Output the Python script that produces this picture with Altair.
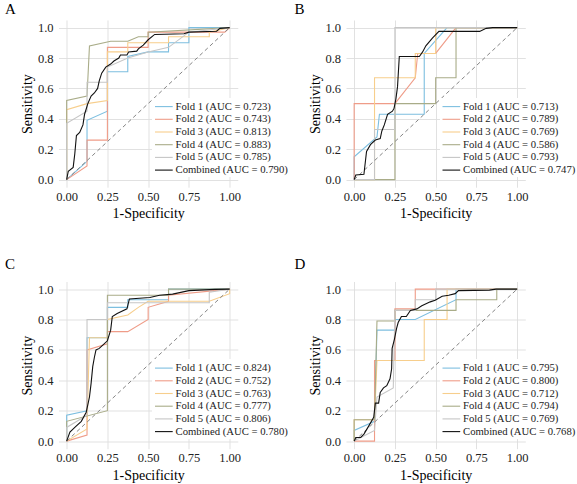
import altair as alt
import pandas as pd

FONT = "Liberation Serif"

SERIES = ["Fold 1", "Fold 2", "Fold 3", "Fold 4", "Fold 5", "Combined"]
COLORS = ["#7DBFE0", "#EF9C88", "#F7CE8C", "#A9AC88", "#C6C6C6", "#111111"]
WIDTHS = [1.1, 1.1, 1.1, 1.1, 1.1, 1.8]

X_TICKS = [0, 0.25, 0.5, 0.75, 1.0]
Y_TICKS = [0, 0.2, 0.4, 0.6, 0.8, 1.0]
DIAG_X = [0, 1]
DIAG_Y = [0, 1]

# ROC points (1-specificity, sensitivity) per fold and pooled, panel A
A_AUC = [0.723, 0.743, 0.813, 0.883, 0.785, 0.790]
A_FOLD1 = [(0, 0), (0.125, 0.12), (0.125, 0.39), (0.25, 0.45), (0.25, 0.71), (0.375, 0.71),
           (0.375, 0.81), (0.5, 0.84), (0.625, 0.84), (0.625, 0.90), (0.75, 0.90), (0.75, 1.0), (1, 1)]
A_FOLD2 = [(0, 0), (0.125, 0.09), (0.125, 0.26), (0.25, 0.26), (0.25, 0.87), (0.5, 0.87),
           (0.5, 0.97), (0.97, 0.97), (1, 1)]
A_FOLD3 = [(0, 0), (0, 0.46), (0.125, 0.50), (0.25, 0.52), (0.25, 0.84), (0.375, 0.84),
           (0.375, 0.90), (0.625, 0.90), (0.625, 0.94), (0.875, 0.94), (0.875, 0.97), (1, 1)]
A_FOLD4 = [(0, 0), (0, 0.52), (0.125, 0.55), (0.14, 0.88), (0.27, 0.91), (0.375, 0.91),
           (0.44, 0.94), (0.5, 0.94), (0.5, 0.97), (1, 1)]
A_FOLD5 = [(0, 0), (0, 0.37), (0.125, 0.45), (0.125, 0.64), (0.25, 0.64), (0.25, 0.74),
           (0.375, 0.80), (0.5, 0.84), (0.625, 0.87), (0.75, 0.97), (1, 1)]
A_COMB = [(0, 0), (0.01, 0.055), (0.04, 0.08), (0.05, 0.17), (0.06, 0.29), (0.08, 0.31),
          (0.10, 0.36), (0.11, 0.43), (0.13, 0.50), (0.15, 0.55), (0.17, 0.57), (0.19, 0.60),
          (0.20, 0.65), (0.215, 0.70), (0.24, 0.74), (0.27, 0.76), (0.29, 0.78), (0.32, 0.80),
          (0.33, 0.82), (0.37, 0.82), (0.38, 0.84), (0.43, 0.845), (0.44, 0.86), (0.47, 0.885),
          (0.50, 0.92), (0.54, 0.955), (0.72, 0.96), (0.75, 0.97), (0.92, 0.976), (0.94, 0.995),
          (1, 1)]

# Panel B
B_AUC = [0.713, 0.789, 0.769, 0.586, 0.793, 0.747]
B_FOLD1 = [(0, 0), (0, 0.15), (0.14, 0.28), (0.155, 0.43), (0.43, 0.43), (0.43, 0.83),
           (0.57, 1.0), (1, 1)]
B_FOLD2 = [(0, 0), (0, 0.5), (0.25, 0.5), (0.375, 0.67), (0.39, 0.83), (0.5, 0.83),
           (0.625, 1.0), (1, 1)]
B_FOLD3 = [(0, 0), (0.125, 0), (0.125, 0.67), (0.375, 0.67), (0.375, 0.83), (0.5, 0.83),
           (0.5, 1.0), (1, 1)]
B_FOLD4 = [(0, 0), (0.25, 0), (0.25, 0.5), (0.5, 0.5), (0.5, 0.67), (0.625, 0.67),
           (0.625, 1.0), (1, 1)]
B_FOLD5 = [(0, 0), (0.125, 0), (0.125, 0.33), (0.25, 0.33), (0.25, 1.0), (1, 1)]
B_COMB = [(0, 0), (0.01, 0.03), (0.06, 0.035), (0.076, 0.185), (0.10, 0.23), (0.13, 0.26),
          (0.16, 0.27), (0.17, 0.32), (0.185, 0.36), (0.205, 0.43), (0.235, 0.45),
          (0.245, 0.47), (0.256, 0.53), (0.266, 0.61), (0.277, 0.81), (0.40, 0.81),
          (0.42, 0.84), (0.44, 0.88), (0.48, 0.93), (0.52, 0.975), (0.77, 0.975),
          (0.81, 0.995), (0.85, 1.0), (1, 1)]

# Panel C
C_AUC = [0.824, 0.752, 0.763, 0.777, 0.806, 0.780]
C_FOLD1 = [(0, 0), (0, 0.17), (0.125, 0.20), (0.125, 0.68), (0.25, 0.68), (0.25, 0.88),
           (0.375, 0.88), (0.375, 0.93), (0.625, 0.93), (0.625, 1.0), (1, 1)]
C_FOLD2 = [(0, 0), (0.125, 0.04), (0.125, 0.60), (0.25, 0.64), (0.25, 0.72), (0.375, 0.72),
           (0.5, 0.80), (0.5, 0.88), (0.625, 0.92), (0.625, 0.96), (1, 1)]
C_FOLD3 = [(0, 0), (0.125, 0.08), (0.14, 0.68), (0.25, 0.68), (0.25, 0.80), (0.375, 0.83),
           (0.44, 0.88), (0.5, 0.92), (0.875, 0.92), (1, 0.97), (1, 1)]
C_FOLD4 = [(0, 0), (0, 0.13), (0.25, 0.20), (0.25, 0.96), (0.625, 0.96), (0.625, 1.0), (1, 1)]
C_FOLD5 = [(0, 0), (0, 0.09), (0.125, 0.17), (0.125, 0.80), (0.25, 0.80), (0.25, 0.91),
           (0.875, 0.91), (0.875, 0.98), (1, 1)]
C_COMB = [(0, 0), (0.02, 0.06), (0.05, 0.09), (0.09, 0.13), (0.12, 0.19), (0.14, 0.29),
          (0.15, 0.38), (0.16, 0.49), (0.17, 0.55), (0.18, 0.60), (0.20, 0.61), (0.22, 0.63),
          (0.25, 0.66), (0.27, 0.73), (0.28, 0.82), (0.31, 0.84), (0.37, 0.87), (0.385, 0.935),
          (0.51, 0.945), (0.57, 0.96), (0.65, 0.967), (0.75, 0.99), (0.91, 0.998), (1, 1)]

# Panel D
D_AUC = [0.795, 0.800, 0.712, 0.794, 0.769, 0.768]
D_FOLD1 = [(0, 0), (0, 0.07), (0.125, 0.13), (0.14, 0.73), (0.25, 0.73), (0.25, 0.80),
           (0.375, 0.80), (0.625, 0.93), (0.625, 1.0), (1, 1)]
D_FOLD2 = [(0, 0), (0.125, 0), (0.125, 0.53), (0.25, 0.53), (0.25, 0.87), (0.375, 0.87),
           (0.375, 1.0), (1, 1)]
D_FOLD3 = [(0, 0), (0, 0.14), (0.125, 0.14), (0.14, 0.53), (0.43, 0.53), (0.43, 0.80),
           (0.57, 0.80), (0.57, 1.0), (1, 1)]
D_FOLD4 = [(0, 0), (0, 0.14), (0.125, 0.14), (0.14, 0.79), (0.25, 0.79), (0.25, 0.86),
           (0.625, 0.86), (0.625, 0.93), (0.875, 0.93), (0.875, 1.0), (1, 1)]
D_FOLD5 = [(0, 0), (0.125, 0.07), (0.14, 0.29), (0.24, 0.35), (0.25, 0.86), (0.375, 0.86),
           (0.375, 0.93), (0.5, 0.93), (0.5, 1.0), (1, 1)]
D_COMB = [(0, 0), (0.01, 0.024), (0.04, 0.024), (0.06, 0.046), (0.09, 0.10), (0.12, 0.156),
          (0.13, 0.25), (0.15, 0.25), (0.16, 0.32), (0.18, 0.35), (0.20, 0.365), (0.22, 0.41),
          (0.23, 0.476), (0.233, 0.61), (0.247, 0.67), (0.26, 0.74), (0.27, 0.78), (0.29, 0.82),
          (0.32, 0.82), (0.345, 0.86), (0.385, 0.87), (0.415, 0.89), (0.467, 0.916),
          (0.497, 0.927), (0.54, 0.953), (0.58, 0.96), (0.62, 0.97), (0.64, 0.99),
          (0.83, 0.993), (0.87, 1.0), (1, 1)]

W = 179.3
H = 167.2
DOMAIN = [-0.05, 1.05]

# key placement inside each panel (pixels from the plot's top-left corner)
KEY_ROW_SCALE = alt.Scale(domain=[0, 5], range=[86.6, 150.1], nice=False, zero=False)
KEY_SWATCH_X = 96.5
KEY_SWATCH_X2 = 114.2
KEY_TEXT_X = 117
KEY_FONT_SIZE = 10.7


def make_panel(letter, curves, aucs, dx, offset):
    labels = [f"{name} (AUC = {auc:.3f})" for name, auc in zip(SERIES, aucs)]
    rows = []
    for lab, pts in zip(labels, curves):
        for i, (fx, ty) in enumerate(pts):
            rows.append({"series": lab, "i": i, "fpr": fx, "tpr": ty})
    df = pd.DataFrame(rows)
    key = pd.DataFrame({"series": labels, "row": list(range(len(labels)))})

    xs = alt.Scale(domain=DOMAIN, nice=False, zero=False)
    ys = alt.Scale(domain=DOMAIN, nice=False, zero=False)
    x_enc = alt.X("fpr:Q", scale=xs,
                  axis=alt.Axis(values=X_TICKS, format=".2f", title="1-Specificity",
                                labelFont=FONT, titleFont=FONT))
    y_axis = alt.Y("tpr:Q", scale=ys,
                   axis=alt.Axis(values=Y_TICKS, format=".1f", title="Sensitivity",
                                 labelFont=FONT, titleFont=FONT))
    y_plain = alt.Y("tpr:Q", scale=ys, axis=None)
    color = alt.Color("series:N", scale=alt.Scale(domain=labels, range=COLORS), legend=None)
    width = alt.StrokeWidth("series:N", scale=alt.Scale(domain=labels, range=WIDTHS),
                            legend=None)
    key_y = alt.Y("row:Q", scale=KEY_ROW_SCALE, axis=None)

    folds = alt.Chart(df[df["series"] != labels[-1]]).mark_line().encode(
        x=x_enc, y=y_axis, color=color, strokeWidth=width, order=alt.Order("i:Q"))
    diag = alt.Chart(pd.DataFrame({"fpr": DIAG_X, "tpr": DIAG_Y})).mark_line(
        color="#858585", strokeWidth=1, strokeDash=[4, 3]).encode(x=x_enc, y=y_plain)
    pooled = alt.Chart(df[df["series"] == labels[-1]]).mark_line().encode(
        x=x_enc, y=y_plain, color=color, strokeWidth=width, order=alt.Order("i:Q"))

    key_box = alt.Chart(key).mark_rect(fill="white").encode(
        x=alt.value(94), x2=alt.value(W), y=alt.value(78), y2=alt.value(157))
    key_swatch = alt.Chart(key).mark_rule().encode(
        x=alt.value(KEY_SWATCH_X), x2=alt.value(KEY_SWATCH_X2), y=key_y,
        color=color, strokeWidth=width)
    key_text = alt.Chart(key).mark_text(
        align="left", baseline="middle", font=FONT, fontSize=KEY_FONT_SIZE, color="#222222"
    ).encode(x=alt.value(KEY_TEXT_X), y=key_y, text="series:N")

    return alt.layer(folds, diag, pooled, key_box, key_swatch, key_text).resolve_scale(
        y="independent"
    ).properties(
        width=W, height=H,
        title=alt.TitleParams(letter, anchor="start", frame="group", dx=dx, offset=offset,
                              baseline="alphabetic", font=FONT, fontSize=15,
                              fontWeight="normal", color="#000000"))


panel_a = make_panel("A", [A_FOLD1, A_FOLD2, A_FOLD3, A_FOLD4, A_FOLD5, A_COMB], A_AUC, -53.5, -8.5)
panel_b = make_panel("B", [B_FOLD1, B_FOLD2, B_FOLD3, B_FOLD4, B_FOLD5, B_COMB], B_AUC, -51.5, -8.5)
panel_c = make_panel("C", [C_FOLD1, C_FOLD2, C_FOLD3, C_FOLD4, C_FOLD5, C_COMB], C_AUC, -53.5, -2)
panel_d = make_panel("D", [D_FOLD1, D_FOLD2, D_FOLD3, D_FOLD4, D_FOLD5, D_COMB], D_AUC, -51.5, -2)

chart = alt.concat(
    panel_a, panel_b, panel_c, panel_d,
    columns=2, spacing={"row": 93.5, "column": 107.5}, bounds="flush",
).resolve_scale(
    color="independent", strokeWidth="independent"
).properties(
    padding={"left": 4.5, "top": 1, "right": 0, "bottom": 0}
).configure(
    font=FONT, background="white"
).configure_view(
    strokeWidth=0
).configure_axis(
    grid=True, gridColor="#DEDEDE", gridWidth=0.9, domain=False, ticks=False, tickSize=0,
    labelFont=FONT, labelFontSize=12.5, labelColor="#222222",
    titleFont=FONT, titleFontSize=14, titleFontWeight="normal", titleColor="#000000",
).configure_axisX(
    labelPadding=3, titlePadding=4
).configure_axisY(
    labelPadding=5.5, titlePadding=2.5
).configure_title(
    font=FONT, fontSize=15, fontWeight="normal", color="#000000"
)

chart.save("out.html", embed_options={"renderer": "svg", "actions": False})
